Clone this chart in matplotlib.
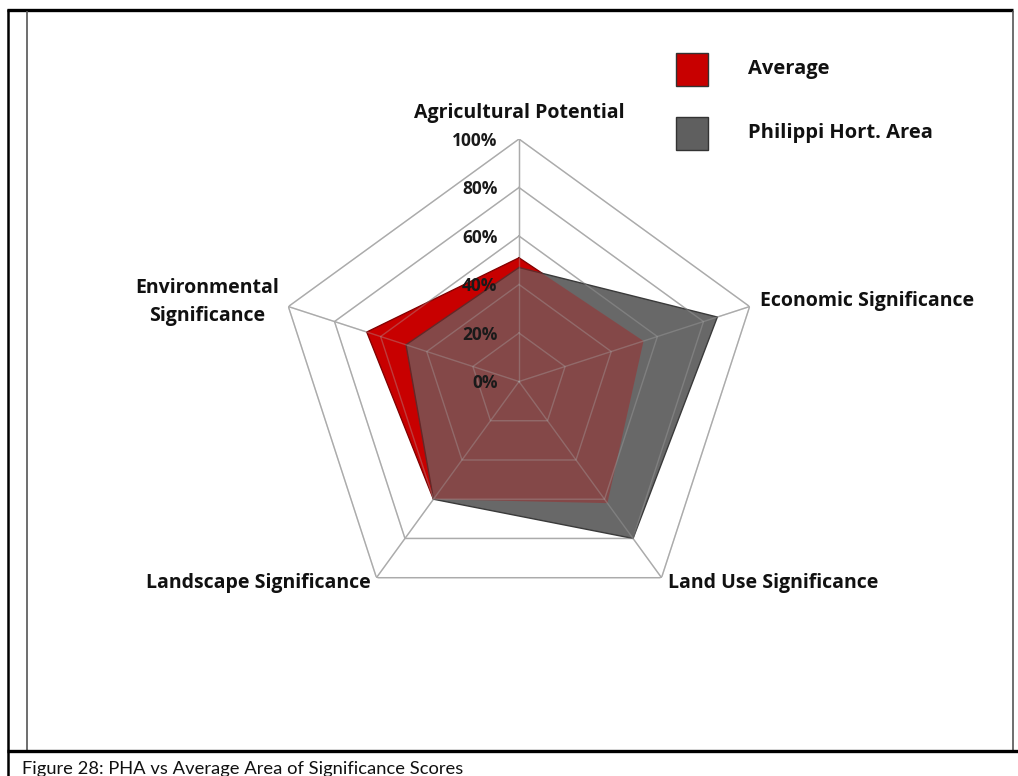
import numpy as np
import matplotlib
matplotlib.use("Agg")
import matplotlib.pyplot as plt
from matplotlib.patches import Rectangle
from matplotlib.lines import Line2D

# ---------------- data ----------------
categories = ["Agricultural Potential", "Economic Significance", "Land Use Significance",
              "Landscape Significance", "Environmental\nSignificance"]
average = [0.51, 0.54, 0.62, 0.60, 0.66]
pha = [0.47, 0.86, 0.80, 0.60, 0.49]
tick_values = [0.0, 0.2, 0.4, 0.6, 0.8, 1.0]
tick_labels = ["0%", "20%", "40%", "60%", "80%", "100%"]
series_names = ["Average", "Philippi Hort. Area"]
caption = "Figure 28: PHA vs Average Area of Significance Scores"

W, H = 1018, 776
BOLD_FONT = ["Open Sans", "DejaVu Sans"]
plt.rcParams['font.family'] = ["Lato", "DejaVu Sans"]

fig = plt.figure(figsize=(W / 100, H / 100), dpi=100)

def fx(x):
    return x / W

def fy(y):
    return 1 - y / H

# polar axes placed so centre ~ (519, 381.5) px, radius 242.5 px
cx, cy, R = 519, 381.5, 242.5
ax = fig.add_axes([fx(cx - R), fy(cy + R), 2 * R / W, 2 * R / H], projection="polar")
ax.set_theta_offset(np.pi / 2)
ax.set_theta_direction(-1)
ax.set_ylim(0, 1)
ax.grid(False)
ax.spines["polar"].set_visible(False)
ax.set_xticks([])
ax.set_yticks([])
ax.patch.set_alpha(0)

n = len(categories)
theta = np.arange(n) * 2 * np.pi / n
theta_c = np.append(theta, theta[0])

grid_col = "#ABABAB"

def draw_grid(alpha, z):
    for v in tick_values[1:]:
        ax.plot(theta_c, [v] * (n + 1), color=grid_col, lw=1.0, alpha=alpha, zorder=z)
    for t in theta:
        ax.plot([t, t], [0, 1], color=grid_col, lw=1.0, alpha=alpha, zorder=z)

draw_grid(1.0, 1)

avg_c = np.append(average, average[0])
pha_c = np.append(pha, pha[0])

red = "#C80000"
gray = "#686868"
ax.fill(theta_c, avg_c, color=red, zorder=2, lw=0)
ax.plot(theta_c, avg_c, color="#7A0000", lw=1.0, zorder=2.1)
ax.fill(theta_c, pha_c, color=gray, zorder=3, lw=0)
ax.plot(theta_c, pha_c, color="#3A3A3A", lw=1.0, zorder=3.1)
# overlap tint: average re-drawn translucent on top
ax.fill(theta_c, avg_c, color=red, alpha=0.30, zorder=4, lw=0)

draw_grid(0.35, 5)

# percentage labels
for v, lab in zip(tick_values, tick_labels):
    ax.annotate(lab, xy=(0, v), xytext=(-15.5, -1.2), textcoords="offset points",
                ha="right", va="center", fontsize=12.5, fontweight="bold",
                family=BOLD_FONT, color="#1A1A1A", zorder=6)

# category labels (positions in px)
cat_pos = [(519, 113, "center", 1.2), (760, 301, "left", 1.2), (668, 583, "left", 1.2),
           (371, 583, "right", 1.2), (207, 302, "center", 1.55)]
for lab, (px, py, ha, ls) in zip(categories, cat_pos):
    fig.text(fx(px), fy(py), lab, ha=ha, va="center", fontsize=14,
             fontweight="bold", family=BOLD_FONT, color="#111111",
             multialignment="center", linespacing=ls)

# legend
leg_items = [(53, red, series_names[0]), (117, "#5F5F5F", series_names[1])]
for ytop, col, name in leg_items:
    fig.add_artist(Rectangle((fx(676), fy(ytop + 33)), 32 / W, 33 / H,
                             transform=fig.transFigure, facecolor=col,
                             edgecolor="#333333", lw=1.0))
    fig.text(fx(748), fy(ytop + 16), name, ha="left", va="center",
             fontsize=14.5, fontweight="bold", family=BOLD_FONT, color="#111111")

# frame lines
def hline(y, x0, x1, lw, col):
    fig.add_artist(Line2D([fx(x0), fx(x1)], [fy(y), fy(y)], transform=fig.transFigure,
                          color=col, lw=lw, solid_capstyle="butt"))

def vline(x, y0, y1, lw, col):
    fig.add_artist(Line2D([fx(x), fx(x)], [fy(y0), fy(y1)], transform=fig.transFigure,
                          color=col, lw=lw, solid_capstyle="butt"))

hline(10, 7, 1013, 2.4, "black")
vline(8, 9, 776, 1.8, "black")
vline(27, 11, 750, 1.2, "#555555")
vline(1013, 11, 750, 1.2, "#555555")
hline(751, 7, 1018, 2.4, "black")

fig.text(fx(22), fy(774), caption, ha="left", va="baseline", fontsize=13.2, color="#111111")

fig.savefig("out.png", dpi=100)
